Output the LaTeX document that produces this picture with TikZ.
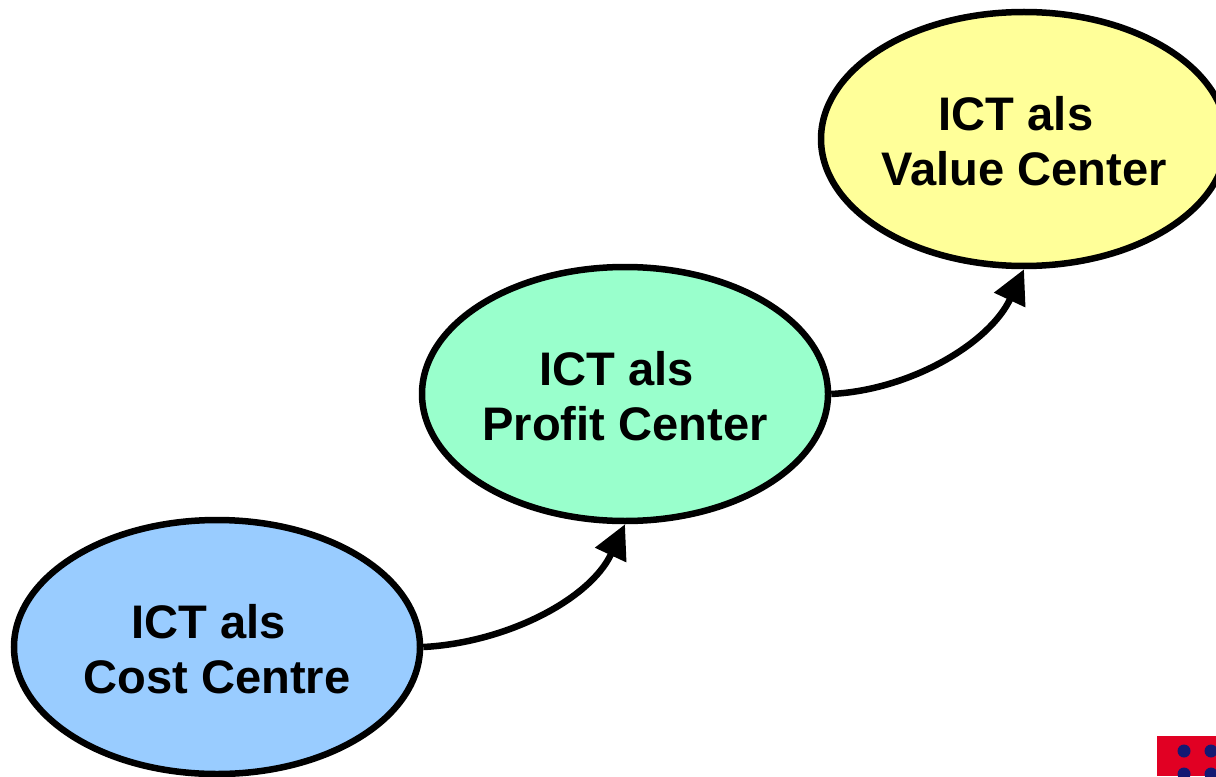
\documentclass[tikz,border=0pt]{standalone}
\usepackage{fontspec}
\setmainfont{Liberation Sans}
\usetikzlibrary{arrows.meta, shapes.geometric}

\definecolor{costblue}{RGB}{153,204,255}
\definecolor{profitgreen}{RGB}{153,255,204}
\definecolor{valueyellow}{RGB}{255,255,153}
\definecolor{logored}{RGB}{225,0,35}
\definecolor{logoblue}{RGB}{20,25,115}

\newcommand{\ictals}{\rule{0pt}{0.385cm}ICT als\rule{0.16cm}{0pt}}

\begin{document}
\begin{tikzpicture}[
		stage/.style = {
			draw,
			ellipse,
			line width = 0.065cm,
			inner sep = 0,
			minimum width = 4.06cm,
			minimum height = 2.54cm,
			align = center,
			font = \fontsize{13.4}{15.9}\selectfont\bfseries
		},
		stagearrow/.style = {
			line width = 0.065cm,
			-{Triangle[length = 0.34cm, width = 0.33cm]}
		},
		logodot/.style = {
			fill = logoblue,
			draw = none,
			circle,
			inner sep = 0,
			minimum size = 0.13cm
		}
	]
	\useasboundingbox (0, 0) rectangle (12.16, 7.76);

	\node [stage, fill = costblue] (cost) at (2.17, 1.29) {\ictals\\Cost Centre};
	\node [stage, fill = profitgreen] (profit) at (6.25, 3.82) {\ictals\\Profit Center};
	\node [stage, fill = valueyellow] (value) at (10.24, 6.37) {\ictals\\Value Center};

	\draw [stagearrow] (cost.east) to [out = 3, in = -115, looseness = 0.9] (profit.south);
	\draw [stagearrow] (profit.east) to [out = 3, in = -115, looseness = 0.9] (value.south);

	% logo in the corner, cut off by the page
	\begin{scope}
		\clip (0, 0) rectangle (12.16, 7.76);
		\fill [logored] (11.57, 0) rectangle (12.16, 0.40);
		\node [logodot] (dota) at (11.84, 0.25) {};
		\node [logodot] (dotb) at (12.11, 0.25) {};
		\node [logodot] (dotc) at (11.84, 0.02) {};
		\node [logodot] (dotd) at (12.11, 0.02) {};
	\end{scope}
\end{tikzpicture}
\end{document}
